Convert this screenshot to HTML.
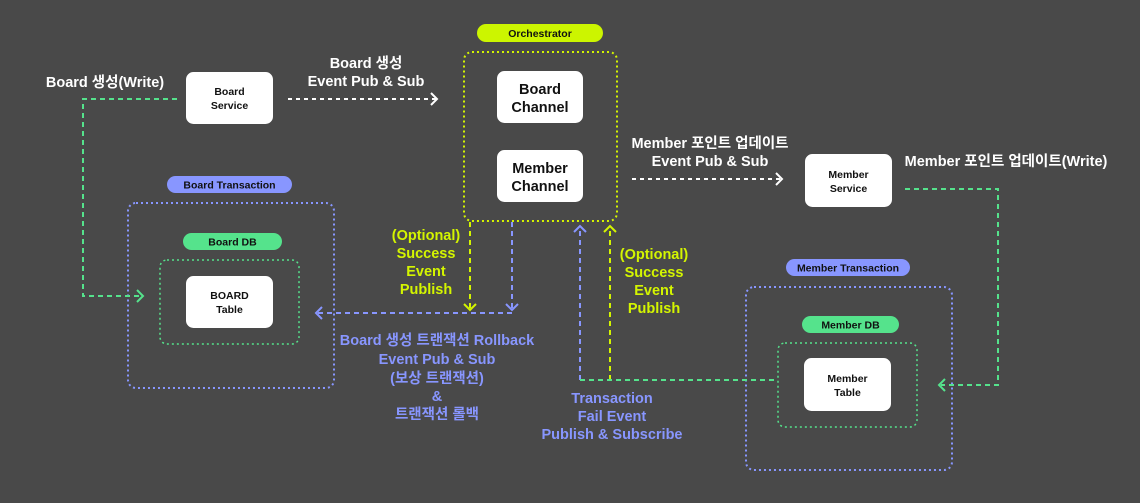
<!DOCTYPE html>
<html><head><meta charset="utf-8"><style>
html,body{margin:0;padding:0;background:#494949;}
svg{display:block;}
text{font-family:"Liberation Sans","Noto Sans CJK KR",sans-serif;font-weight:bold;}
</style></head><body>
<svg width="1140" height="503" viewBox="0 0 1140 503" xmlns="http://www.w3.org/2000/svg">
<rect width="1140" height="503" fill="#494949"/>
<g fill="none" stroke-width="2">
 <rect x="464" y="52" width="153" height="169" rx="8" stroke="#d4f500" stroke-dasharray="2 3"/>
 <rect x="128" y="203" width="206" height="185" rx="8" stroke="#8896ff" stroke-dasharray="2 3"/>
 <rect x="160" y="260" width="139" height="84" rx="7" stroke="#55e38c" stroke-width="1.5" stroke-dasharray="2 3"/>
 <rect x="746" y="287" width="206" height="183" rx="8" stroke="#8896ff" stroke-dasharray="2 3"/>
 <rect x="778" y="343" width="139" height="84" rx="7" stroke="#55e38c" stroke-width="1.5" stroke-dasharray="2 3"/>
 <path d="M177 99 H83 V296 H141" stroke="#55e38c" stroke-dasharray="5 4"/>
 <path d="M137 290 L143 296 L137 302" stroke="#55e38c"/>
 <path d="M288 99 H436" stroke="#fff" stroke-dasharray="4 4"/>
 <path d="M431 93 L437 99 L431 105" stroke="#fff"/>
 <path d="M632 179 H781" stroke="#fff" stroke-dasharray="4 4"/>
 <path d="M776 173 L782 179 L776 185" stroke="#fff"/>
 <path d="M905 189 H998 V385 H941" stroke="#55e38c" stroke-dasharray="5 4"/>
 <path d="M945 379 L939 385 L945 391" stroke="#55e38c"/>
 <path d="M470 222 V310" stroke="#d4f500" stroke-dasharray="5 4"/>
 <path d="M464 304 L470 310 L476 304" stroke="#d4f500"/>
 <path d="M512 222 V310" stroke="#8896ff" stroke-dasharray="5 4"/>
 <path d="M506 304 L512 310 L518 304" stroke="#8896ff"/>
 <path d="M512 313 H318" stroke="#8896ff" stroke-dasharray="5 4"/>
 <path d="M322 307 L316 313 L322 319" stroke="#8896ff"/>
 <path d="M580 380 V228" stroke="#8896ff" stroke-dasharray="5 4"/>
 <path d="M574 232 L580 226 L586 232" stroke="#8896ff"/>
 <path d="M610 380 V228" stroke="#d4f500" stroke-dasharray="5 4"/>
 <path d="M604 232 L610 226 L616 232" stroke="#d4f500"/>
 <path d="M580 380 H778" stroke="#55e38c" stroke-dasharray="5 4"/>
</g>
<rect x="477" y="24" width="126" height="18" rx="9" fill="#ccf500"/>
<text x="540" y="37" font-size="10.5" text-anchor="middle" fill="#111">Orchestrator</text>
<rect x="167" y="176" width="125" height="17" rx="8.5" fill="#8896ff"/>
<text x="229.5" y="188.5" font-size="10.5" text-anchor="middle" fill="#111">Board Transaction</text>
<rect x="183" y="233" width="99" height="17" rx="8.5" fill="#55e38c"/>
<text x="232.5" y="245.5" font-size="10.5" text-anchor="middle" fill="#111">Board DB</text>
<rect x="786" y="259" width="124" height="17" rx="8.5" fill="#8896ff"/>
<text x="848" y="271.5" font-size="10.5" text-anchor="middle" fill="#111">Member Transaction</text>
<rect x="802" y="316" width="97" height="17" rx="8.5" fill="#55e38c"/>
<text x="850.5" y="328.5" font-size="10.5" text-anchor="middle" fill="#111">Member DB</text>
<g fill="#fff">
 <rect x="186" y="72" width="87" height="52" rx="7.5"/>
 <rect x="497" y="71" width="86" height="52" rx="7.5"/>
 <rect x="497" y="150" width="86" height="52" rx="7.5"/>
 <rect x="186" y="276" width="87" height="52" rx="7.5"/>
 <rect x="805" y="154" width="87" height="53" rx="7.5"/>
 <rect x="804" y="358" width="87" height="53" rx="7.5"/>
</g>
<g fill="#111" font-size="10.5" text-anchor="middle">
 <text x="229.5" y="95">Board</text><text x="229.5" y="109">Service</text>
 <text x="229.5" y="299">BOARD</text><text x="229.5" y="313">Table</text>
 <text x="848.5" y="178">Member</text><text x="848.5" y="192">Service</text>
 <text x="847.5" y="382">Member</text><text x="847.5" y="396">Table</text>
</g>
<g fill="#111" font-size="14.5" text-anchor="middle">
 <text x="540" y="94">Board</text><text x="540" y="112">Channel</text>
 <text x="540" y="173">Member</text><text x="540" y="191">Channel</text>
</g>
<g fill="#fff" font-size="14.5">
 <text x="105" y="87" text-anchor="middle">Board 생성(Write)</text>
 <text x="366" y="68" text-anchor="middle">Board 생성</text>
 <text x="366" y="86" text-anchor="middle">Event Pub &amp; Sub</text>
 <text x="710" y="148" text-anchor="middle">Member 포인트 업데이트</text>
 <text x="710" y="166" text-anchor="middle">Event Pub &amp; Sub</text>
 <text x="1006" y="166" text-anchor="middle">Member 포인트 업데이트(Write)</text>
</g>
<g fill="#d4f500" font-size="14.5" text-anchor="middle">
 <text x="426" y="240">(Optional)</text><text x="426" y="258">Success</text>
 <text x="426" y="276">Event</text><text x="426" y="294">Publish</text>
 <text x="654" y="259">(Optional)</text><text x="654" y="277">Success</text>
 <text x="654" y="295">Event</text><text x="654" y="313">Publish</text>
</g>
<g fill="#8896ff" font-size="14.5" text-anchor="middle">
 <text x="437" y="345">Board 생성 트랜잭션 Rollback</text>
 <text x="437" y="364">Event Pub &amp; Sub</text>
 <text x="437" y="383">(보상 트랜잭션)</text>
 <text x="437" y="401">&amp;</text>
 <text x="437" y="419">트랜잭션 롤백</text>
 <text x="612" y="403">Transaction</text>
 <text x="612" y="421">Fail Event</text>
 <text x="612" y="439">Publish &amp; Subscribe</text>
</g>
</svg>
</body></html>
